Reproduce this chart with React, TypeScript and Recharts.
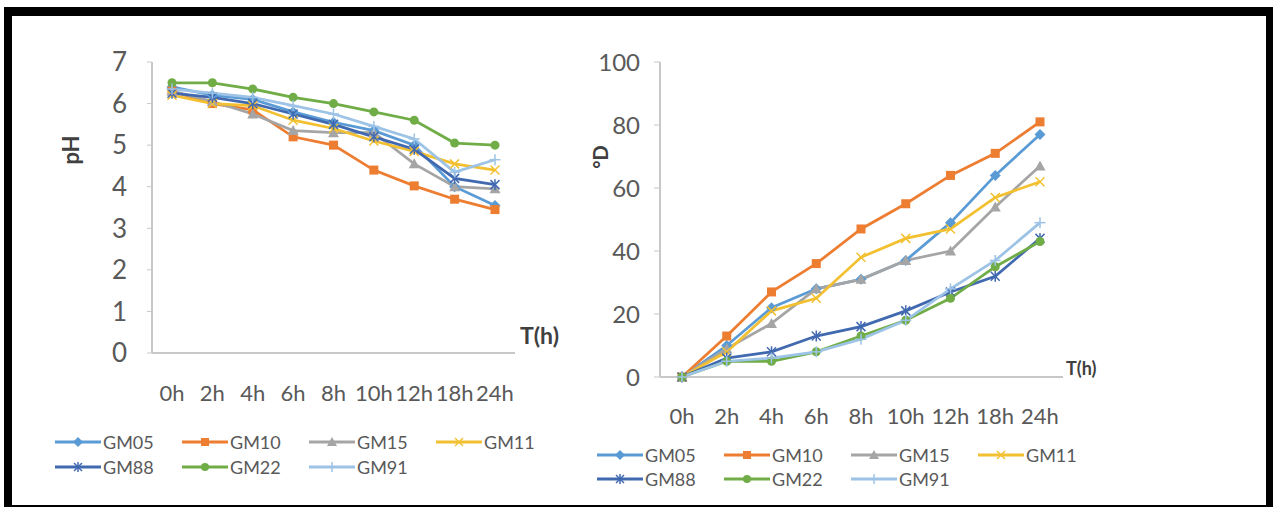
import React from "react";
import { LineChart, Line, XAxis, YAxis } from "recharts";

const HOURS = ["0h", "2h", "4h", "6h", "8h", "10h", "12h", "18h", "24h"];

// pH over time
const PH_GM05 = [6.4, 6.2, 6.1, 5.8, 5.55, 5.35, 5.0, 4.0, 3.55];
const PH_GM10 = [6.3, 6.0, 5.85, 5.2, 5.0, 4.4, 4.02, 3.7, 3.45];
const PH_GM15 = [6.3, 6.05, 5.75, 5.35, 5.3, 5.3, 4.55, 4.0, 3.95];
const PH_GM11 = [6.2, 6.0, 5.95, 5.6, 5.4, 5.1, 4.85, 4.55, 4.4];
const PH_GM88 = [6.25, 6.15, 6.0, 5.75, 5.5, 5.2, 4.9, 4.2, 4.05];
const PH_GM22 = [6.5, 6.5, 6.35, 6.15, 6.0, 5.8, 5.6, 5.05, 5.0];
const PH_GM91 = [6.35, 6.25, 6.15, 5.95, 5.75, 5.45, 5.15, 4.35, 4.65];

// Dornic acidity over time
const DEG_GM05 = [0, 10, 22, 28, 31, 37, 49, 64, 77];
const DEG_GM10 = [0, 13, 27, 36, 47, 55, 64, 71, 81];
const DEG_GM15 = [0, 9, 17, 28, 31, 37, 40, 54, 67];
const DEG_GM11 = [0, 8, 21, 25, 38, 44, 47, 57, 62];
const DEG_GM88 = [0, 6, 8, 13, 16, 21, 27, 32, 44];
const DEG_GM22 = [0, 5, 5, 8, 13, 18, 25, 35, 43];
const DEG_GM91 = [0, 5, 6, 8, 12, 18, 28, 37, 49];

const PH_TICKS = [0, 1, 2, 3, 4, 5, 6, 7];
const DEG_TICKS = [0, 20, 40, 60, 80, 100];

const SERIES = [
  { key: "GM05", color: "#5B9BD5", shape: "diamond" },
  { key: "GM10", color: "#ED7D31", shape: "square" },
  { key: "GM15", color: "#A5A5A5", shape: "triangle" },
  { key: "GM11", color: "#F2C030", shape: "x" },
  { key: "GM88", color: "#4169B0", shape: "star" },
  { key: "GM22", color: "#70AD47", shape: "circle" },
  { key: "GM91", color: "#9DC3E6", shape: "plus" },
];

const phData = HOURS.map((h, i) => ({
  h,
  GM05: PH_GM05[i],
  GM10: PH_GM10[i],
  GM15: PH_GM15[i],
  GM11: PH_GM11[i],
  GM88: PH_GM88[i],
  GM22: PH_GM22[i],
  GM91: PH_GM91[i],
}));

const degData = HOURS.map((h, i) => ({
  h,
  GM05: DEG_GM05[i],
  GM10: DEG_GM10[i],
  GM15: DEG_GM15[i],
  GM11: DEG_GM11[i],
  GM88: DEG_GM88[i],
  GM22: DEG_GM22[i],
  GM91: DEG_GM91[i],
}));

// Lato is the closest installed face to Calibri
const FONT = "Lato, 'Open Sans', sans-serif";
const TEXT = "#595959";
const AXIS = "#C8C8C8";

function Marker({ cx, cy, shape, color, s = 4.5 }: any) {
  if (cx == null || cy == null) return null;
  switch (shape) {
    case "diamond":
      return (
        <polygon
          points={`${cx},${cy - s - 1} ${cx + s + 1},${cy} ${cx},${cy + s + 1} ${cx - s - 1},${cy}`}
          fill={color}
        />
      );
    case "square":
      return <rect x={cx - s} y={cy - s} width={s * 2} height={s * 2} fill={color} />;
    case "triangle":
      return (
        <polygon
          points={`${cx},${cy - s - 1} ${cx + s + 1},${cy + s} ${cx - s - 1},${cy + s}`}
          fill={color}
        />
      );
    case "circle":
      return <circle cx={cx} cy={cy} r={s} fill={color} />;
    case "x":
      return (
        <g stroke={color} strokeWidth={1.5}>
          <line x1={cx - s} y1={cy - s} x2={cx + s} y2={cy + s} />
          <line x1={cx - s} y1={cy + s} x2={cx + s} y2={cy - s} />
        </g>
      );
    case "star":
      return (
        <g stroke={color} strokeWidth={1.5}>
          <line x1={cx - s} y1={cy - s} x2={cx + s} y2={cy + s} />
          <line x1={cx - s} y1={cy + s} x2={cx + s} y2={cy - s} />
          <line x1={cx} y1={cy - s - 1} x2={cx} y2={cy + s + 1} />
        </g>
      );
    default:
      return (
        <g stroke={color} strokeWidth={1.5}>
          <line x1={cx - s - 1} y1={cy} x2={cx + s + 1} y2={cy} />
          <line x1={cx} y1={cy - s - 1} x2={cx} y2={cy + s + 1} />
        </g>
      );
  }
}

function seriesLines() {
  return SERIES.map((s) => (
    <Line
      key={s.key}
      type="linear"
      dataKey={s.key}
      stroke={s.color}
      strokeWidth={2.75}
      isAnimationActive={false}
      dot={(p: any) => (
        <Marker key={`${s.key}-${p.index}`} cx={p.cx} cy={p.cy} shape={s.shape} color={s.color} />
      )}
      activeDot={false}
    />
  ));
}

function Legend({ left, top, pitch, rowGap, fontSize }: any) {
  return (
    <>
      {SERIES.map((s, i) => {
        const col = i % 4;
        const row = Math.floor(i / 4);
        return (
          <div
            key={s.key}
            style={{
              position: "absolute",
              left: left + col * pitch,
              top: top + row * rowGap - 10,
              height: 20,
              display: "flex",
              alignItems: "center",
              fontFamily: FONT,
              fontSize,
              color: TEXT,
            }}
          >
            <svg width={46} height={20}>
              <line x1={0} y1={10} x2={46} y2={10} stroke={s.color} strokeWidth={3} />
              <Marker cx={23} cy={10} shape={s.shape} color={s.color} s={4} />
            </svg>
            <span style={{ marginLeft: 2 }}>{s.key}</span>
          </div>
        );
      })}
    </>
  );
}

function Title({ children, left, top, size, rotate }: any) {
  return (
    <div
      style={{
        position: "absolute",
        left,
        top,
        fontFamily: FONT,
        fontWeight: "bold",
        fontSize: size,
        color: "#404040",
        whiteSpace: "nowrap",
        transform: rotate ? "translate(-50%, -50%) rotate(-90deg)" : "translate(0, -50%)",
      }}
    >
      {children}
    </div>
  );
}

export default function App() {
  return (
    <div
      style={{
        position: "absolute",
        left: 0,
        top: 0,
        width: 1277,
        height: 508,
        background: "#fff",
        overflow: "hidden",
      }}
    >
      <div
        style={{
          position: "absolute",
          left: 4,
          top: 7,
          width: 1269,
          height: 500,
          boxSizing: "border-box",
          borderTop: "9px solid #000",
          borderLeft: "8px solid #000",
          borderRight: "7px solid #000",
          borderBottom: "2px solid #000",
        }}
      />

      {/* pH chart */}
      <div style={{ position: "absolute", left: 0, top: 0 }}>
        <LineChart
          width={600}
          height={508}
          data={phData}
          margin={{ top: 62, right: 85, left: 0, bottom: 115 }}
        >
          <XAxis
            dataKey="h"
            height={40}
            padding={{ left: 20, right: 20 }}
            tickLine={false}
            tickSize={0}
            tickMargin={32}
            axisLine={{ stroke: AXIS, strokeWidth: 2 }}
            tick={{ fill: TEXT, fontSize: 22, fontFamily: FONT }}
            interval={0}
          />
          <YAxis
            width={152}
            domain={[0, 7]}
            ticks={PH_TICKS}
            tickSize={5}
            tickMargin={20}
            tickLine={{ stroke: AXIS }}
            axisLine={{ stroke: AXIS, strokeWidth: 2 }}
            tick={{ fill: TEXT, fontSize: 26, fontFamily: FONT }}
          />
          {seriesLines()}
        </LineChart>
      </div>
      <Title left={70} top={150} size={22} rotate>
        pH
      </Title>
      <Title left={520} top={335} size={23}>
        T(h)
      </Title>
      <Legend left={55} top={442} pitch={127} rowGap={25} fontSize={18} />

      {/* Dornic chart */}
      <div style={{ position: "absolute", left: 560, top: 0 }}>
        <LineChart
          width={540}
          height={508}
          data={degData}
          margin={{ top: 62, right: 37, left: 0, bottom: 91 }}
        >
          <XAxis
            dataKey="h"
            height={40}
            padding={{ left: 22, right: 23 }}
            tickLine={false}
            tickSize={0}
            tickMargin={31}
            axisLine={{ stroke: AXIS, strokeWidth: 2 }}
            tick={{ fill: TEXT, fontSize: 22, fontFamily: FONT }}
            interval={0}
          />
          <YAxis
            width={100}
            domain={[0, 100]}
            ticks={DEG_TICKS}
            tickSize={6}
            tickMargin={14}
            tickLine={{ stroke: AXIS }}
            axisLine={{ stroke: AXIS, strokeWidth: 2 }}
            tick={{ fill: TEXT, fontSize: 24, fontFamily: FONT }}
          />
          {seriesLines()}
        </LineChart>
      </div>
      <Title left={600} top={157} size={20} rotate>
        °D
      </Title>
      <Title left={1066} top={368} size={18}>
        T(h)
      </Title>
      <Legend left={597} top={455} pitch={127} rowGap={24} fontSize={18} />
    </div>
  );
}
